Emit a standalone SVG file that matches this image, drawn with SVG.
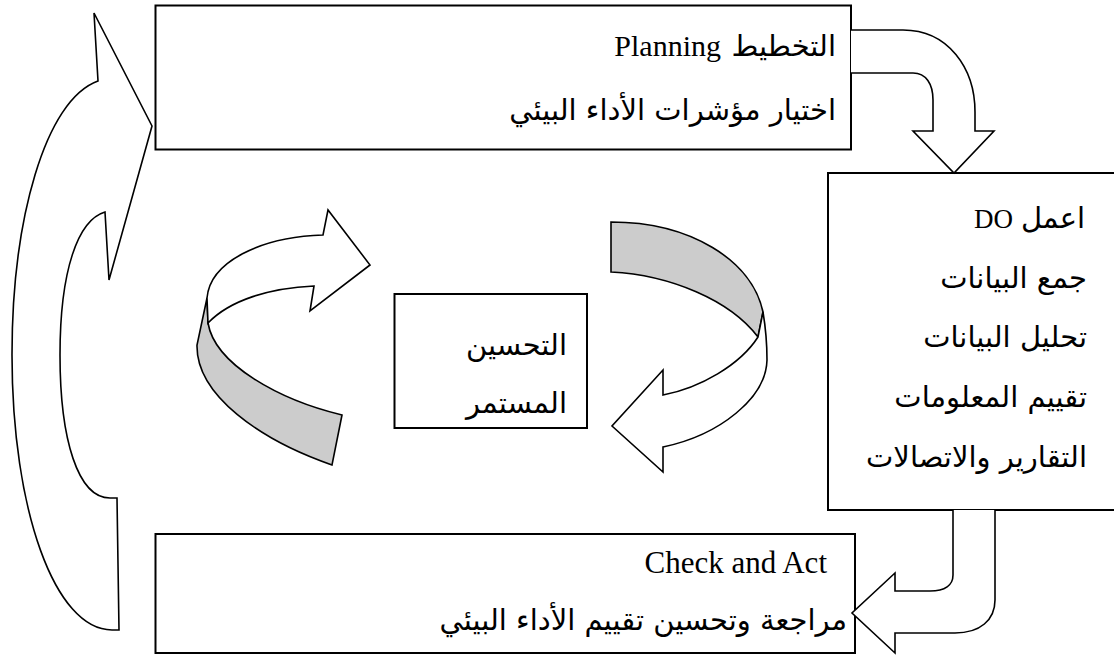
<svg xmlns="http://www.w3.org/2000/svg" width="1114" height="657" viewBox="0 0 1114 657">
<style>
.box{fill:#fff;stroke:#000;stroke-width:2}
.arr{fill:#fff;stroke:#000;stroke-width:1.6;stroke-linejoin:miter}
.grey{fill:#cccccc;stroke:#000;stroke-width:1.6}
.ar{font-family:'DejaVu Sans','Noto Sans',sans-serif;font-size:29px;fill:#000;text-anchor:end}
.lat{font-family:'Liberation Serif','Times New Roman',serif;font-size:30px;fill:#000;text-anchor:end}
</style>
<rect width="1114" height="657" fill="#fff"/>
<g id="plan">
<rect class="box" x="155.5" y="5.5" width="695.5" height="144"/>
<text class="lat" x="721" y="56">Planning</text>
<text class="ar" x="836" y="56">التخطيط</text>
<text class="ar" x="836" y="120">اختيار مؤشرات الأداء البيئي</text>
</g>
<g id="do">
<rect class="box" x="828" y="173" width="290" height="337"/>
<text class="lat" x="1013" y="228" style="font-size:27px">DO</text>
<text class="ar" x="1085" y="228">اعمل</text>
<text class="ar" x="1087" y="288">جمع البيانات</text>
<text class="ar" x="1087" y="347">تحليل البيانات</text>
<text class="ar" x="1087" y="407">تقييم المعلومات</text>
<text class="ar" x="1087" y="467">التقارير والاتصالات</text>
</g>
<g id="check">
<rect class="box" x="155.5" y="534" width="699.5" height="119"/>
<text class="lat" x="827" y="573" style="font-size:31px">Check and Act</text>
<text class="ar" x="847" y="630">مراجعة وتحسين تقييم الأداء البيئي</text>
</g>
<g id="center">
<rect class="box" x="394.5" y="294" width="192.5" height="134"/>
<text class="ar" x="567" y="355">التحسين</text>
<text class="ar" x="567" y="413">المستمر</text>
</g>
<g id="connectors">
<path class="arr" d="M 851,30 L 903,30 C 948,30 975,68 975,112 L 975,131 L 994,131 L 954,173 L 913,131 L 933,131 L 933,100 C 933,84 926,73 913,73 L 851,73"/>
<path class="arr" d="M 953,510 L 953,575 C 953,585 945,591 930,591 L 895,591 L 895,573 L 852,613 L 895,653 L 895,633 L 955,633 C 980,633 995,620 995,600 L 995,510"/>
<path class="arr" d="M 98,81 C 45,100 12,220 12,355 C 12,510 55,630 112,630 L 119,630 L 117,498 L 110,498 C 78,498 60,440 60,355 C 60,270 78,220 105,212 L 109,280 L 152,126 L 94,13 Z"/>
<path class="grey" d="M 207,298 L 197,345 C 196,395 260,440 332,465 L 342,415 C 280,400 215,365 208,323 Z"/>
<path class="arr" d="M 207,298 C 210,262 260,237 323,235 L 328,210 L 370,265 L 310,311 L 314,286 C 270,288 230,300 208,323 Z"/>
<path class="grey" d="M 611,222 C 690,222 752,260 763,312 L 758,337 C 730,300 670,275 611,272 Z"/>
<path class="arr" d="M 763,312 C 766,330 767,345 767,360 C 766,398 720,435 663,447 L 663,472 L 612,426 L 663,370 L 663,395 C 700,388 740,365 758,337 Z"/>
</g>
</svg>
